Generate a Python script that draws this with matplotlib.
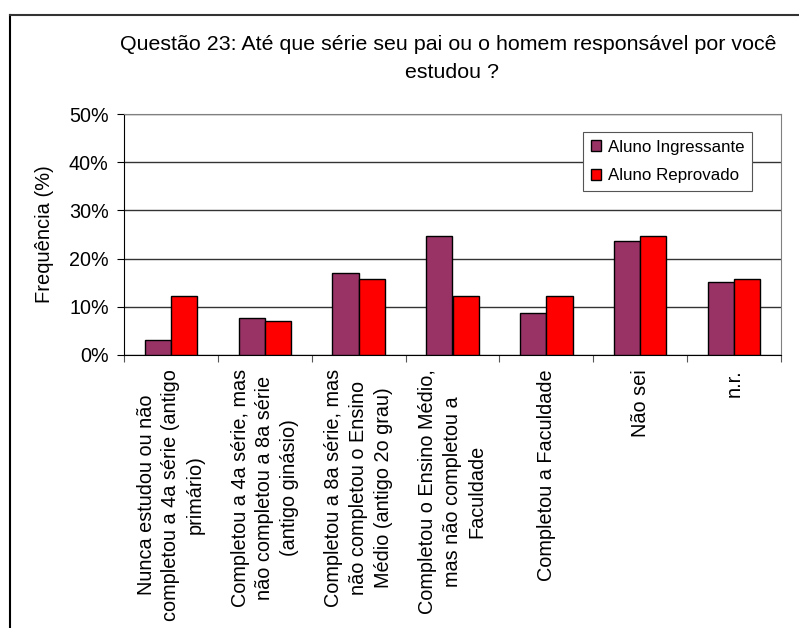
import numpy as np
import matplotlib
matplotlib.use('Agg')
from matplotlib import pyplot as plt
from matplotlib.lines import Line2D
from matplotlib.ticker import PercentFormatter

plt.rcParams['font.family'] = ['Liberation Sans', 'DejaVu Sans']

# answer categories
categories = [
    'Nunca estudou ou não\ncompletou a 4a série (antigo\nprimário)',
    'Completou a 4a série, mas\nnão completou a 8a série\n(antigo ginásio)',
    'Completou a 8a série, mas\nnão completou o Ensino\nMédio (antigo 2o grau)',
    'Completou o Ensino Médio,\nmas não completou a\nFaculdade',
    'Completou a Faculdade',
    'Não sei',
    'n.r.',
]
# frequencies in %
ingressante = [3.1, 7.7, 17.0, 24.7, 8.7, 23.7, 15.1]
reprovado = [12.2, 7.0, 15.8, 12.2, 12.2, 24.7, 15.8]
series_names = ['Aluno Ingressante', 'Aluno Reprovado']

fig = plt.figure(figsize=(7.99, 6.28), dpi=100)
ax = fig.add_axes([124 / 799, 1 - 355 / 628, (781 - 124) / 799, (355 - 114) / 628])

x = np.arange(len(categories))
w = 0.28
ax.bar(x - w / 2, ingressante, w, color='#993366', edgecolor='black', linewidth=1, label=series_names[0], zorder=3)
ax.bar(x + w / 2, reprovado, w, color='#FF0000', edgecolor='black', linewidth=1, label=series_names[1], zorder=3)

ax.set_xlim(-0.5, len(categories) - 0.5)
ax.set_ylim(0, 50)
ax.set_yticks(np.arange(0, 51, 10))
ax.yaxis.set_major_formatter(PercentFormatter(decimals=0))
ax.grid(axis='y', color='#333333', linewidth=1, zorder=0)

# boundary ticks between categories, labels at the centres
ax.set_xticks(np.arange(-0.5, len(categories), 1))
ax.set_xticklabels([])
ax.set_xticks(x, minor=True)
ax.set_xticklabels(categories, minor=True, rotation=90, ha='center', va='top',
                   multialignment='center', linespacing=1.38, fontsize=14.3)
ax.tick_params(axis='x', which='minor', length=0, pad=10)
ax.tick_params(axis='x', which='major', length=5, direction='out', color='#555555')
ax.tick_params(axis='y', length=5, direction='out', labelsize=14.2, pad=6)

for s in ['top', 'right']:
    ax.spines[s].set_color('#808080')
ax.spines['left'].set_color('black')
ax.spines['bottom'].set_color('black')

ax.set_ylabel('Frequência (%)', fontsize=14.5, labelpad=11)

leg = ax.legend(loc='upper right', bbox_to_anchor=(752 / 799, 1 - 132 / 628), bbox_transform=fig.transFigure,
                fontsize=12.2, frameon=True, fancybox=False, edgecolor='#555555', framealpha=1,
                borderaxespad=0, handlelength=0.6, handleheight=0.6, handletextpad=0.4,
                borderpad=0.45, labelspacing=0.8)
leg.get_frame().set_linewidth(0.8)

fig.text(448 / 799, 1 - 45 / 628, 'Questão 23: Até que série seu pai ou o homem responsável por você',
         ha='center', va='center', fontsize=15.4)
fig.text(452 / 799, 1 - 72 / 628, 'estudou ?', ha='center', va='center', fontsize=15.4)

# chart border (cropped on the right and bottom)
fig.add_artist(Line2D([10 / 799, 10 / 799], [0, 1 - 15 / 628], color='black', linewidth=1.5, transform=fig.transFigure))
fig.add_artist(Line2D([10 / 799, 1], [1 - 15 / 628, 1 - 15 / 628], color='#333333', linewidth=1.5, transform=fig.transFigure))

fig.savefig('out.png', dpi=100)
